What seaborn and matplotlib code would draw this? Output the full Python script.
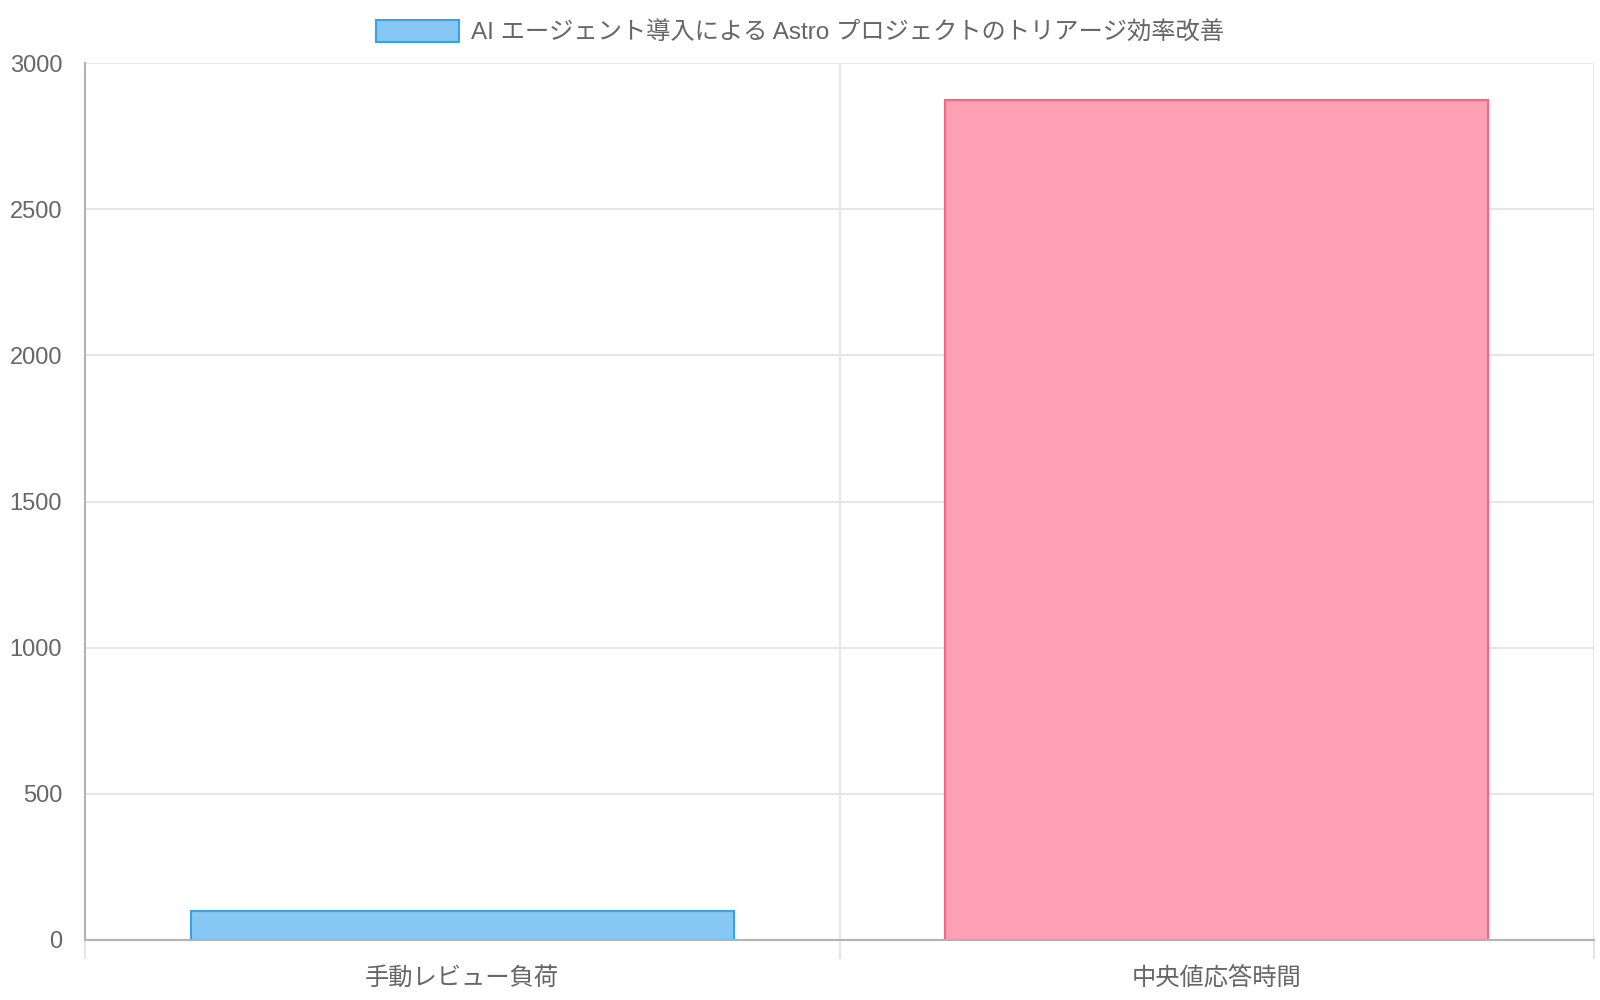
import matplotlib
matplotlib.use("Agg")
import matplotlib.pyplot as plt
import seaborn as sns
import pandas as pd
from matplotlib.patches import Patch

categories = ["手動レビュー負荷", "中央値応答時間"]
values = [100, 2873]
fill_colors = ["#86C7F3", "#FFA1B5"]
edge_colors = ["#36A2EB", "#FF6384"]
legend_label = "AI エージェント導入による Astro プロジェクトのトリアージ効率改善"
y_ticks = [0, 500, 1000, 1500, 2000, 2500, 3000]

sns.set_style("white")
plt.rcParams["font.family"] = ["Liberation Sans", "Noto Sans CJK JP", "DejaVu Sans"]

text_col = "#666666"
grid_col = "#e6e6e6"
axis_col = "#b3b3b3"

df = pd.DataFrame({"category": categories, "value": values})

fig = plt.figure(figsize=(16, 10), dpi=100)
ax = fig.add_axes([85 / 1600, 60 / 1000, 1509 / 1600, 877 / 1000])

sns.barplot(data=df, x="category", y="value", hue="category",
            palette=fill_colors, saturation=1, width=0.72, legend=False, ax=ax)
for patch, ec in zip(ax.patches, edge_colors):
    patch.set_edgecolor(ec)
    patch.set_linewidth(1.5)

ax.set_xlim(-0.5, 1.5)
ax.set_ylim(0, 3000)
ax.set_yticks(y_ticks)
ax.set_xlabel("")
ax.set_ylabel("")

# grid
ax.set_axisbelow(True)
ax.yaxis.grid(True, color=grid_col, linewidth=1.5)
ax.set_xticks([-0.5, 0.5, 1.5], minor=True)
ax.xaxis.grid(True, which="minor", color=grid_col, linewidth=1.5)

for side in ["top", "right"]:
    ax.spines[side].set_visible(False)
for side in ["left", "bottom"]:
    ax.spines[side].set_color(axis_col)
    ax.spines[side].set_linewidth(1.5)

ax.tick_params(axis="y", which="major", length=14.5, width=1.5, color=grid_col,
               labelsize=17, labelcolor=text_col, pad=2)
ax.tick_params(axis="x", which="major", length=0, labelsize=17.5,
               labelcolor=text_col, pad=19)
ax.tick_params(axis="x", which="minor", length=13.5, width=1.5, color=grid_col,
               bottom=True)
ax.xaxis.get_minor_ticks()[0].tick1line.set_color(axis_col)

handle = Patch(facecolor=fill_colors[0], edgecolor=edge_colors[0], linewidth=1.5)
fig.legend([handle], [legend_label], loc="center", bbox_to_anchor=(0.5, 1 - 32 / 1000),
           frameon=False, fontsize=17.5, labelcolor=text_col,
           handlelength=3.4, handleheight=1.05, handletextpad=0.5)

fig.savefig("out.png", dpi=100, facecolor="white")
